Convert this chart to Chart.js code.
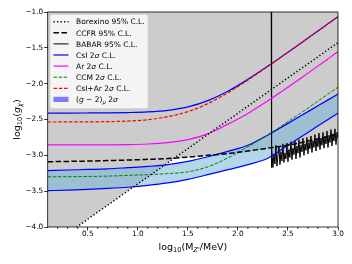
<!DOCTYPE html>
<html>
<head>
<meta charset="utf-8">
<script src="https://cdn.jsdelivr.net/npm/chart.js@4.4.0/dist/chart.umd.min.js"></script>
<style>
    html, body { margin: 0; padding: 0; background: #fff; }
    #wrap { position: relative; width: 352px; height: 264px; }
</style>
</head>
<body>
<div id="wrap"><canvas id="chart" width="352" height="264"></canvas></div>
<script>
(function () {
    "use strict";

    //------------------------------- data (log10 values) -----------------------------
    var massGrid = [0.1, 0.3, 0.5, 0.7, 0.9, 1.1, 1.3, 1.5, 1.7, 1.9, 2.1, 2.3, 2.5, 2.7, 2.9, 3.0];

    var csiLimit = [-2.410, -2.410, -2.409, -2.407, -2.403, -2.394, -2.372, -2.324, -2.236, -2.105, -1.940, -1.755, -1.562, -1.364, -1.165, -1.066];
    var csiArLimit = [-2.535, -2.534, -2.533, -2.530, -2.522, -2.503, -2.460, -2.390, -2.278, -2.127, -1.950, -1.759, -1.563, -1.364, -1.165, -1.066];
    var arLimit = [-2.855, -2.855, -2.854, -2.853, -2.850, -2.842, -2.823, -2.782, -2.700, -2.565, -2.415, -2.240, -2.050, -1.853, -1.654, -1.554];
    var ccmLimit = [-3.300, -3.298, -3.295, -3.290, -3.280, -3.270, -3.255, -3.230, -3.160, -3.035, -2.880, -2.715, -2.530, -2.340, -2.145, -2.050];
    var g2Upper = [-3.214, -3.205, -3.197, -3.188, -3.172, -3.155, -3.130, -3.085, -3.020, -2.945, -2.860, -2.715, -2.554, -2.390, -2.226, -2.144];
    var g2Lower = [-3.493, -3.485, -3.475, -3.462, -3.445, -3.420, -3.385, -3.335, -3.270, -3.200, -3.130, -3.040, -2.860, -2.680, -2.500, -2.413];
    var borexinoLimit = [-4.286, -4.089, -3.892, -3.694, -3.497, -3.300, -3.103, -2.905, -2.708, -2.511, -2.314, -2.116, -1.919, -1.722, -1.526, -1.428];
    var ccfrLimit = [-3.089, -3.085, -3.080, -3.073, -3.066, -3.056, -3.045, -3.025, -3.000, -2.975, -2.940, -2.900, -2.860, -2.800, -2.735, -2.700];

    var babarMass = [2.333, 2.333,
        2.34, 2.35, 2.36, 2.37, 2.38, 2.39, 2.40, 2.41, 2.42, 2.43, 2.44, 2.45, 2.46, 2.47, 2.48, 2.49,
        2.50, 2.51, 2.52, 2.53, 2.54, 2.55, 2.56, 2.57, 2.58, 2.59, 2.60, 2.61, 2.62, 2.63, 2.64, 2.65,
        2.66, 2.67, 2.68, 2.69, 2.70, 2.71, 2.72, 2.73, 2.74, 2.75, 2.76, 2.77, 2.78, 2.79, 2.80, 2.81,
        2.82, 2.83, 2.84, 2.85, 2.86, 2.87, 2.88, 2.89, 2.90, 2.91, 2.92, 2.93, 2.94, 2.95, 2.96, 2.97,
        2.98, 2.99, 3.00];
    var babarLimit = [-0.9, -3.17,
        -2.90, -3.17, -2.98, -3.12, -2.86, -3.15, -3.01, -2.88, -3.13, -2.95, -3.08, -2.84, -3.10, -2.97, -3.05, -2.83,
        -3.09, -2.92, -3.03, -2.81, -3.06, -2.90, -2.99, -2.80, -3.05, -2.87, -2.97, -2.78, -3.03, -2.86, -2.95, -2.76,
        -3.00, -2.84, -2.93, -2.75, -2.98, -2.82, -2.91, -2.73, -2.96, -2.80, -2.89, -2.71, -2.94, -2.78, -2.88, -2.69,
        -2.92, -2.76, -2.86, -2.68, -2.90, -2.74, -2.84, -2.66, -2.89, -2.72, -2.82, -2.64, -2.87, -2.70, -2.80, -2.63,
        -2.85, -2.68, -2.76];

    var xTicks = [0.5, 1.0, 1.5, 2.0, 2.5, 3.0];
    var xMinorTicks = [0.2, 0.3, 0.4, 0.6, 0.7, 0.8, 0.9, 1.1, 1.2, 1.3, 1.4, 1.6, 1.7, 1.8, 1.9,
        2.1, 2.2, 2.3, 2.4, 2.6, 2.7, 2.8, 2.9];
    var yTicks = [-4.0, -3.5, -3.0, -2.5, -2.0, -1.5, -1.0];

    var FONT = '"DejaVu Sans", sans-serif';
    var GREY = '#cccccc';
    var BAND = 'rgba(117,180,217,0.55)';

    function pts(xs, ys) {
        return xs.map(function (m, i) { return { x: m, y: ys[i] }; });
    }

    //------------------------------- rich text (sub / italic) -----------------------------
    function fontFor(p, size) {
        return (p.it ? 'italic ' : '') + (p.sub ? size * 0.7 : size) + 'px ' + FONT;
    }
    function richWidth(c, pieces, size) {
        var w = 0;
        pieces.forEach(function (p) {
            c.font = fontFor(p, size);
            w += c.measureText(p.t).width;
        });
        return w;
    }
    function drawRich(c, pieces, x, y, size) {
        pieces.forEach(function (p) {
            c.font = fontFor(p, size);
            c.fillText(p.t, x, p.sub ? y + size * 0.22 : y);
            x += c.measureText(p.t).width;
        });
    }

    var legendItems = [
        { text: [{ t: 'Borexino 95% C.L.' }], color: '#000', dash: [1.3, 2.2], width: 1.5 },
        { text: [{ t: 'CCFR 95% C.L.' }], color: '#000', dash: [5.5, 2.4], width: 1.5 },
        { text: [{ t: 'BABAR 95% C.L.' }], color: '#000', dash: [], width: 1.0 },
        { text: [{ t: 'CsI 2' }, { t: 'σ', it: 1 }, { t: ' C.L.' }], color: '#0000ff', dash: [], width: 1.2 },
        { text: [{ t: 'Ar 2' }, { t: 'σ', it: 1 }, { t: ' C.L.' }], color: '#ff00ff', dash: [], width: 1.2 },
        { text: [{ t: 'CCM 2' }, { t: 'σ', it: 1 }, { t: ' C.L.' }], color: '#008000', dash: [3.5, 1.6], width: 1.0 },
        { text: [{ t: 'CsI+Ar 2' }, { t: 'σ', it: 1 }, { t: ' C.L.' }], color: '#ff0000', dash: [3.5, 1.8], width: 1.2 },
        { text: [{ t: '(' }, { t: 'g', it: 1 }, { t: ' − 2)' }, { t: 'μ', it: 1, sub: 1 }, { t: ' 2' }, { t: 'σ', it: 1 }], patch: 'rgba(0,0,255,0.5)' }
    ];
    var xTitle = [{ t: 'log' }, { t: '10', sub: 1 }, { t: '(M' }, { t: "Z'", sub: 1, it: 1 }, { t: '/MeV)' }];
    var yTitle = [{ t: 'log' }, { t: '10', sub: 1 }, { t: '(' }, { t: 'g', it: 1 }, { t: 'χ', sub: 1, it: 1 }, { t: ')' }];

    //------------------------------- frame, minor ticks, titles, legend -----------------------------
    var decorPlugin = {
        id: 'decor',
        afterDraw: function (chart) {
            var c = chart.ctx, a = chart.chartArea;
            var xs = chart.scales.x;
            c.save();
            c.strokeStyle = '#000';
            c.lineWidth = 0.8;
            c.strokeRect(a.left, a.top, a.right - a.left, a.bottom - a.top);
            xMinorTicks.forEach(function (v) {
                var px = xs.getPixelForValue(v);
                c.beginPath();
                c.moveTo(px, a.bottom);
                c.lineTo(px, a.bottom + 2);
                c.stroke();
            });

            // axis titles
            c.fillStyle = '#000';
            c.textBaseline = 'alphabetic';
            var ts = 9.5;
            var w = richWidth(c, xTitle, ts);
            drawRich(c, xTitle, (a.left + a.right) / 2 - w / 2, 250, ts);
            c.save();
            c.translate(19.5, (a.top + a.bottom) / 2);
            c.rotate(-Math.PI / 2);
            w = richWidth(c, yTitle, ts);
            drawRich(c, yTitle, -w / 2, 0, ts);
            c.restore();

            // legend
            var bx = 50, by = 14.5, bw = 98, bh = 94;
            c.beginPath();
            c.roundRect(bx, by, bw, bh, 2);
            c.fillStyle = 'rgba(255,255,255,0.8)';
            c.fill();
            c.strokeStyle = '#d4d4d4';
            c.lineWidth = 0.8;
            c.stroke();
            var fs = 7.5;
            legendItems.forEach(function (it, i) {
                var cy = 21.7 + i * 11.1;
                if (it.patch) {
                    c.fillStyle = it.patch;
                    c.fillRect(53.5, cy - 2.6, 15, 5.2);
                } else {
                    c.beginPath();
                    c.setLineDash(it.dash);
                    c.strokeStyle = it.color;
                    c.lineWidth = it.width;
                    c.moveTo(53.5, cy);
                    c.lineTo(68.5, cy);
                    c.stroke();
                    c.setLineDash([]);
                }
                c.fillStyle = '#000';
                drawRich(c, it.text, 76, cy + fs * 0.36, fs);
            });
            c.restore();
        }
    };

    function tickFmt(v) {
        var s = Number(v).toFixed(1);
        return s.charAt(0) === '-' ? '\u2212' + s.slice(1) : s;
    }

    var ctx = document.getElementById("chart").getContext("2d");
    new Chart(ctx, {
        type: 'line',
        data: {
            datasets: [
                { data: pts(massGrid, csiArLimit), borderColor: '#ff0000', borderWidth: 1.2, borderDash: [3.5, 1.8], fill: false },
                { data: pts(massGrid, csiLimit), borderColor: '#0000ff', borderWidth: 1.2, fill: false },
                { data: pts(massGrid, ccfrLimit), borderColor: '#000', borderWidth: 1.5, borderDash: [5.5, 2.4], fill: false },
                { data: pts(massGrid, borexinoLimit), borderColor: '#000', borderWidth: 1.5, borderDash: [1.3, 2.2], tension: 0, cubicInterpolationMode: 'default', fill: false },
                { data: pts(massGrid, arLimit), borderColor: '#ff00ff', borderWidth: 1.2, fill: false },
                { data: pts(massGrid, ccmLimit), borderColor: '#008000', borderWidth: 1.0, borderDash: [3.5, 1.6], fill: false },
                { data: pts(massGrid, g2Upper), borderColor: '#0000ff', borderWidth: 1.2, backgroundColor: BAND, fill: '+1' },
                { data: pts(massGrid, g2Lower), borderColor: '#0000ff', borderWidth: 1.2, fill: false },
                { data: pts(babarMass, babarLimit), borderColor: '#000', borderWidth: 1.0, tension: 0, cubicInterpolationMode: 'default', backgroundColor: GREY, fill: 'end' },
                // grey excluded regions, drawn under everything
                { data: pts(massGrid, ccfrLimit), borderWidth: 0, borderColor: 'rgba(0,0,0,0)', backgroundColor: GREY, fill: 'end' },
                { data: pts(massGrid, borexinoLimit), borderWidth: 0, borderColor: 'rgba(0,0,0,0)', tension: 0, cubicInterpolationMode: 'default', backgroundColor: GREY, fill: 'end' }
            ]
        },
        options: {
            responsive: false,
            animation: false,
            devicePixelRatio: 1,
            layout: { padding: { top: 12, right: 14, left: 0, bottom: 0 } },
            elements: { point: { radius: 0 }, line: { cubicInterpolationMode: 'monotone' } },
            plugins: {
                legend: { display: false },
                tooltip: { enabled: false },
                filler: { drawTime: 'beforeDatasetsDraw' }
            },
            scales: {
                x: {
                    type: 'linear', min: 0.1, max: 3.0,
                    afterBuildTicks: function (s) { s.ticks = xTicks.map(function (v) { return { value: v }; }); },
                    afterFit: function (s) { s.height = 37; },
                    border: { display: false },
                    grid: { drawOnChartArea: false, drawTicks: true, tickLength: 3.5, tickColor: '#000', tickWidth: 0.8 },
                    ticks: { color: '#000', font: { family: FONT, size: 7.3 }, padding: -1, maxRotation: 0, autoSkip: false, callback: tickFmt }
                },
                y: {
                    type: 'linear', min: -4.0, max: -1.0,
                    afterBuildTicks: function (s) { s.ticks = yTicks.map(function (v) { return { value: v }; }); },
                    afterFit: function (s) { s.width = 47.7; },
                    border: { display: false },
                    grid: { drawOnChartArea: false, drawTicks: true, tickLength: 3.5, tickColor: '#000', tickWidth: 0.8 },
                    ticks: { color: '#000', font: { family: FONT, size: 7.3 }, padding: 1, autoSkip: false, callback: tickFmt }
                }
            }
        },
        plugins: [decorPlugin]
    });
})();
</script>
</body>
</html>
